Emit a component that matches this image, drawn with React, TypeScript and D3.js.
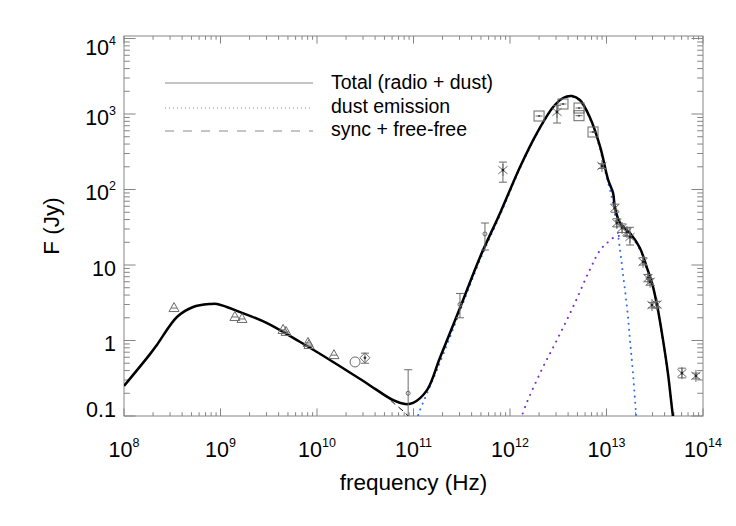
import * as d3 from "d3";

// model curves: frequency (Hz) and flux (Jy)
const totalNu = [1e8, 1.86e8, 2.2e8, 3.54e8, 5.2e8, 7.8e8, 9.2e8, 1.6e9, 3.0e9, 6.7e9, 1.47e10, 3.3e10, 6.1e10, 8.2e10, 9.9e10, 1.38e11, 1.88e11, 3.03e11, 4.9e11, 7.9e11, 1.27e12, 1.9e12, 2.8e12, 3.54e12, 4.39e12, 5.3e12, 6.7e12, 8.6e12, 1.04e13, 1.17e13, 1.22e13, 1.38e13, 1.75e13, 2.22e13, 2.63e13, 2.96e13, 3.34e13, 3.85e13, 4.33e13, 4.89e13, 5.3e13];
const totalF = [0.25, 0.66, 0.88, 2.05, 2.78, 3.04, 3.04, 2.38, 1.71, 0.955, 0.52, 0.27, 0.163, 0.144, 0.149, 0.22, 0.59, 2.69, 12.8, 48.9, 199, 560, 1238, 1630, 1730, 1532, 912, 366, 134, 90, 58.6, 36, 26.5, 16.8, 9.1, 5.8, 2.95, 1.02, 0.37, 0.098, 0.05];

const coldNu = [1.0e11, 1.11e11, 1.38e11, 1.75e11, 2.5e11, 4.9e11, 7.9e11, 1.27e12, 1.9e12, 2.8e12, 3.54e12, 4.39e12, 5.3e12, 6.7e12, 8.6e12, 9.64e12, 1.15e13, 1.28e13, 1.36e13, 1.47e13, 1.63e13, 1.75e13, 1.88e13, 2.02e13, 2.1e13];
const coldF = [0.06, 0.1, 0.2, 0.41, 1.3, 11.8, 46, 192, 545, 1210, 1600, 1700, 1500, 880, 340, 181, 72.6, 32.9, 18.4, 8.3, 2.78, 1.02, 0.37, 0.11, 0.06];

const warmNu = [1.25e12, 1.33e12, 2.05e12, 3.07e12, 4.5e12, 6.7e12, 8.6e12, 1.01e13, 1.22e13, 1.45e13, 1.75e13, 2.22e13, 2.63e13, 2.96e13, 3.34e13, 3.85e13, 4.33e13, 4.89e13, 5.3e13];
const warmF = [0.06, 0.1, 0.37, 1.02, 2.78, 8.6, 15.8, 19.5, 23.5, 24.5, 24, 16, 8.8, 5.7, 2.9, 1.0, 0.36, 0.097, 0.05];

const syncNu = [1e8, 1.86e8, 2.2e8, 3.54e8, 5.2e8, 7.8e8, 9.2e8, 1.6e9, 3.0e9, 6.7e9, 1.47e10, 3.3e10, 5.0e10, 6.4e10, 7.6e10, 8.8e10, 1.0e11];
const syncF = [0.25, 0.66, 0.88, 2.05, 2.78, 3.04, 3.04, 2.38, 1.71, 0.955, 0.52, 0.27, 0.19, 0.144, 0.12, 0.1, 0.08];

// observations
const triNu = [3.3e8, 1.41e9, 1.67e9, 4.45e9, 4.78e9, 8.07e9, 8.26e9, 1.5e10];
const triF = [2.69, 2.05, 1.93, 1.38, 1.3, 0.93, 0.87, 0.64];

const astNu = [8.45e11, 3.07e12, 8.97e12, 1.22e13, 1.28e13, 1.45e13, 1.63e13, 1.75e13, 2.39e13, 2.69e13, 2.83e13, 2.96e13, 3.34e13, 6.05e13, 8.45e13];
const astF = [181, 1063, 205, 57, 36, 31, 27.4, 23.5, 11, 6.7, 6.0, 2.95, 3.0, 0.37, 0.34];
const astLo = [125, 760, 190, 50, 32, 27, 24, 18.4, 10, 6, 5.4, 2.7, 2.7, 0.32, 0.31];
const astHi = [231, 1300, 220, 64, 41, 35, 31, 31.6, 12.5, 7.5, 6.6, 3.2, 3.3, 0.43, 0.37];

const sqNu = [2.0e12, 3.54e12, 5.19e12, 5.19e12, 7.25e12];
const sqF = [941, 1357, 1200, 950, 578];

const dotNu = [8.8e10, 3.03e11, 5.5e11];
const dotF = [0.2, 3.0, 25.8];
const dotLo = [0.05, 2.0, 15.8];
const dotHi = [0.41, 4.2, 36];

const ringNu = [2.48e10];
const ringF = [0.52];

const diaNu = [3.14e10];
const diaF = [0.59];
const diaLo = [0.5];
const diaHi = [0.68];

const legendLabels = ["Total (radio + dust)", "dust emission", "sync + free-free"];

const font = "'Liberation Sans', Arial, Helvetica, sans-serif";
const axisGrey = "#858585";
const markGrey = "#6a6a6a";

export default function App() {
  const W = 736, H = 526;
  const left = 124, right = 703, top = 36, bottom = 416;
  const x = d3.scaleLog().domain([1e8, 1e14]).range([left, right]);
  const y = d3.scaleLog().domain([0.1, 1.08e4]).range([bottom, top]);

  const path = (nu: number[], f: number[]) =>
    d3.line<number>()
      .x(i => x(nu[i]))
      .y(i => y(f[i]))
      .curve(d3.curveCatmullRom.alpha(0.5))(nu.map((_, i) => i)) ?? "";

  const xDec = d3.range(8, 15);
  const yDec = d3.range(-1, 5);
  const xMinor = d3.range(8, 14).flatMap(d => d3.range(2, 10).map(k => k * Math.pow(10, d)));
  const yMinor = d3.range(-1, 4).flatMap(d => d3.range(2, 10).map(k => k * Math.pow(10, d)));

  const yLabel = (d: number) => (d === -1 ? "0.1" : d === 0 ? "1" : d === 1 ? "10" : null);

  const errBar = (cx: number, lo: number, hi: number, key: string, cap = 4) => (
    <g key={key} stroke={markGrey} strokeWidth={1}>
      <line x1={cx} x2={cx} y1={y(lo)} y2={y(hi)} />
      <line x1={cx - cap} x2={cx + cap} y1={y(hi)} y2={y(hi)} />
      <line x1={cx - cap} x2={cx + cap} y1={y(lo)} y2={y(lo)} />
    </g>
  );

  const star = (cx: number, cy: number, r: number) => {
    const a = (40 * Math.PI) / 180;
    const dx = r * Math.cos(a), dy = r * Math.sin(a);
    return `M${cx},${cy - r}L${cx},${cy + r}M${cx - dx},${cy - dy}L${cx + dx},${cy + dy}M${cx - dx},${cy + dy}L${cx + dx},${cy - dy}`;
  };

  return (
    <svg width={W} height={H} style={{ position: "absolute", left: 0, top: 0, background: "#fff" }} fontFamily={font}>
      <defs>
        <clipPath id="plotArea">
          <rect x={left} y={top} width={right - left} height={bottom - top} />
        </clipPath>
      </defs>

      {/* axes box and ticks */}
      <rect x={left} y={top} width={right - left} height={bottom - top} fill="none" stroke={axisGrey} strokeWidth={1} />
      <g stroke={axisGrey} strokeWidth={1}>
        {xDec.map(d => {
          const px = x(Math.pow(10, d));
          return (
            <g key={"xM" + d}>
              <line x1={px} x2={px} y1={bottom} y2={bottom - 7.6} />
              <line x1={px} x2={px} y1={top} y2={top + 7.6} />
            </g>
          );
        })}
        {xMinor.map((v, i) => {
          const px = x(v);
          return (
            <g key={"xm" + i}>
              <line x1={px} x2={px} y1={bottom} y2={bottom - 3.8} />
              <line x1={px} x2={px} y1={top} y2={top + 3.8} />
            </g>
          );
        })}
        {yDec.map(d => {
          const py = y(Math.pow(10, d));
          return (
            <g key={"yM" + d}>
              <line x1={left} x2={left + 11.6} y1={py} y2={py} />
              <line x1={right} x2={right - 11.6} y1={py} y2={py} />
            </g>
          );
        })}
        {yMinor.map((v, i) => {
          const py = y(v);
          return (
            <g key={"ym" + i}>
              <line x1={left} x2={left + 5.8} y1={py} y2={py} />
              <line x1={right} x2={right - 5.8} y1={py} y2={py} />
            </g>
          );
        })}
      </g>

      {/* tick labels */}
      <g fill="#000">
        {xDec.map(d => (
          <text key={"xl" + d} x={x(Math.pow(10, d))} y={457} textAnchor="middle" fontSize={21.5}>
            10<tspan fontSize={12.5} dy={-10}>{d}</tspan>
          </text>
        ))}
        {yDec.map(d => {
          const base = Math.min(Math.max(y(Math.pow(10, d)) + 10.5, 55), 417);
          const plain = yLabel(d);
          return (
            <text key={"yl" + d} x={116} y={base} textAnchor="end" fontSize={21.5}>
              {plain ?? "10"}
              {plain ? null : <tspan fontSize={12.5} dy={-10}>{d}</tspan>}
            </text>
          );
        })}
        <text x={(left + right) / 2} y={490} textAnchor="middle" fontSize={22.5}>frequency (Hz)</text>
        <text transform={`translate(59,${(top + bottom) / 2}) rotate(-90)`} textAnchor="middle" fontSize={22.5}>F (Jy)</text>
      </g>

      {/* model curves */}
      <g clipPath="url(#plotArea)" fill="none">
        <path d={path(syncNu, syncF)} stroke="#000" strokeWidth={1} strokeDasharray="6 4" />
        <path d={path(warmNu, warmF)} stroke="#7a2fd6" strokeWidth={2} strokeDasharray="0.1 6.5" strokeLinecap="round" />
        <path d={path(coldNu, coldF)} stroke="#2f6ff2" strokeWidth={2} strokeDasharray="0.1 6" strokeLinecap="round" />
        <path d={path(totalNu, totalF)} stroke="#000" strokeWidth={2.5} />
      </g>

      {/* data points */}
      <g clipPath="url(#plotArea)" fill="none" stroke={markGrey} strokeWidth={1}>
        {triNu.map((v, i) => {
          const cx = x(v), cy = y(triF[i]);
          return (
            <g key={"tri" + i}>
              <path d={`M${cx},${cy - 5.5}L${cx + 5},${cy + 3.5}L${cx - 5},${cy + 3.5}Z`} />
              <line x1={cx - 3} x2={cx + 3} y1={cy} y2={cy} />
            </g>
          );
        })}
        {ringNu.map((v, i) => (
          <circle key={"ring" + i} cx={x(v)} cy={y(ringF[i])} r={5} />
        ))}
        {diaNu.map((v, i) => {
          const cx = x(v), cy = y(diaF[i]);
          return (
            <g key={"dia" + i}>
              {errBar(cx, diaLo[i], diaHi[i], "de" + i)}
              <path d={`M${cx},${cy - 5}L${cx + 5},${cy}L${cx},${cy + 5}L${cx - 5},${cy}Z`} />
              <circle cx={cx} cy={cy} r={1.4} fill="#333" stroke="none" />
            </g>
          );
        })}
        {dotNu.map((v, i) => {
          const cx = x(v), cy = y(dotF[i]);
          return (
            <g key={"dot" + i}>
              {errBar(cx, dotLo[i], dotHi[i], "pe" + i)}
              <circle cx={cx} cy={cy} r={2} />
            </g>
          );
        })}
        {sqNu.map((v, i) => {
          const cx = x(v), cy = y(sqF[i]);
          return (
            <g key={"sq" + i}>
              <rect x={cx - 5} y={cy - 5} width={10} height={10} />
              <line x1={cx - 3.5} x2={cx + 3.5} y1={cy} y2={cy} />
              <circle cx={cx} cy={cy} r={1} fill="#444" stroke="none" />
            </g>
          );
        })}
        {astNu.map((v, i) => {
          const cx = x(v), cy = y(astF[i]);
          return (
            <g key={"ast" + i}>
              {errBar(cx, astLo[i], astHi[i], "ae" + i)}
              <path d={star(cx, cy, 6)} />
              <circle cx={cx} cy={cy} r={1.4} fill="#222" stroke="none" />
            </g>
          );
        })}
      </g>

      {/* legend */}
      <g stroke="#8a8a8a" strokeWidth={1} fill="none">
        <line x1={165} x2={313} y1={83} y2={83} />
        <line x1={165} x2={313} y1={108} y2={108} strokeDasharray="1 3" />
        <line x1={165} x2={313} y1={131} y2={131} strokeDasharray="9 9" />
      </g>
      <g fontSize={19.5} fill="#000">
        {legendLabels.map((t, i) => (
          <text key={t} x={331} y={89 + i * 23.5}>{t}</text>
        ))}
      </g>
    </svg>
  );
}
